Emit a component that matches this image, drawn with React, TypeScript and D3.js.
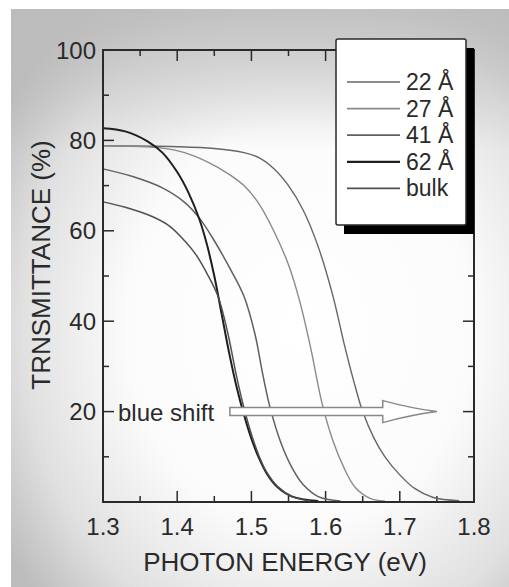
import React from 'react';
import * as d3 from 'd3';

// photon energy (eV) / transmittance (%)
const e22 = [1.3, 1.4, 1.45, 1.49, 1.51, 1.53, 1.55, 1.57, 1.59, 1.61, 1.625, 1.64, 1.65, 1.665, 1.68, 1.7, 1.72, 1.745, 1.78];
const t22 = [78.8, 78.6, 78.2, 77.3, 76.2, 73.8, 70.0, 64.5, 56.5, 45.5, 35.0, 25.5, 20.0, 14.2, 10.0, 6.0, 3.0, 1.0, 0.3];
const e27 = [1.3, 1.38, 1.41, 1.44, 1.47, 1.49, 1.51, 1.53, 1.55, 1.565, 1.58, 1.595, 1.61, 1.625, 1.64, 1.66, 1.68];
const t27 = [78.8, 78.3, 77.3, 75.3, 72.5, 70.0, 66.0, 60.0, 52.5, 44.5, 34.0, 22.0, 13.5, 7.5, 3.2, 0.8, 0.2];
const e41 = [1.3, 1.34, 1.38, 1.41, 1.43, 1.45, 1.47, 1.49, 1.505, 1.515, 1.525, 1.54, 1.555, 1.57, 1.59, 1.62];
const t41 = [73.7, 72.0, 69.5, 66.3, 62.8, 57.8, 52.0, 45.5, 37.0, 28.5, 21.0, 13.0, 7.5, 3.8, 1.2, 0.2];
const e62 = [1.3, 1.33, 1.36, 1.38, 1.4, 1.415, 1.43, 1.44, 1.45, 1.46, 1.47, 1.48, 1.49, 1.5, 1.51, 1.52, 1.535, 1.555, 1.59];
const t62 = [82.7, 82.0, 79.8, 77.3, 73.0, 68.5, 62.5, 57.0, 50.0, 41.5, 33.0, 25.5, 19.3, 14.0, 9.8, 6.5, 3.3, 1.2, 0.2];
const eBulk = [1.3, 1.33, 1.367, 1.39, 1.41, 1.425, 1.44, 1.455, 1.468, 1.48, 1.49, 1.5, 1.51, 1.52, 1.535, 1.555, 1.58];
const tBulk = [66.4, 65.2, 63.1, 61.0, 57.8, 54.8, 50.6, 45.5, 37.5, 27.8, 20.8, 15.0, 10.3, 6.8, 3.5, 1.2, 0.2];

const seriesNames = ['22 Å', '27 Å', '41 Å', '62 Å', 'bulk'];
const seriesE = [e22, e27, e41, e62, eBulk];
const seriesT = [t22, t27, t41, t62, tBulk];
const seriesColor = ['#666', '#8a8a8a', '#606060', '#1e1e1e', '#505050'];
const seriesWidth = [1.4, 1.4, 1.5, 2, 1.5];

const xTicks = [1.3, 1.4, 1.5, 1.6, 1.7, 1.8];
const xMinor = [1.35, 1.45, 1.55, 1.65, 1.75];
const yTicks = [20, 40, 60, 80, 100];
const yMinor = [10, 30, 50, 70, 90];

// blue shift arrow: from / head start / tip (eV) at 20 %
const arrowE = [1.471, 1.677, 1.75];
const arrowT = 20;

const W = 509;
const H = 587;
const m = { left: 103, right: 474, top: 50, bottom: 502 };
const font = '"Liberation Sans", Arial, sans-serif';
const ink = '#2a2a2a';

export default function App() {
  const x = d3.scaleLinear().domain([1.3, 1.8]).range([m.left, m.right]);
  const y = d3.scaleLinear().domain([0, 100]).range([m.bottom, m.top]);
  const line = d3
    .line<[number, number]>()
    .x((d) => x(d[0]))
    .y((d) => y(d[1]))
    .curve(d3.curveCatmullRom.alpha(0.5));

  const ay = y(arrowT);
  const [a0, a1, a2] = arrowE.map((e) => x(e));
  const arrowPath = `M${a0},${ay - 4} L${a1},${ay - 4} L${a1},${ay - 11} Q${a1 + 30},${ay - 3} ${a2},${ay} Q${a1 + 30},${ay + 3} ${a1},${ay + 11} L${a1},${ay + 4} L${a0},${ay + 4} Z`;

  const legX = 336, legY = 39, legW = 130, legH = 186;

  return (
    <svg width={W} height={H} style={{ position: 'absolute', left: 0, top: 0, display: 'block' }}>
      <defs>
        <radialGradient id="bg" cx="0.58" cy="0.55" r="0.7">
          <stop offset="0" stopColor="#ffffff" />
          <stop offset="0.5" stopColor="#fbfbfb" />
          <stop offset="0.8" stopColor="#e0e0e0" />
          <stop offset="1" stopColor="#bdbdbd" />
        </radialGradient>
        <linearGradient id="topShade" x1="0" y1="0" x2="0" y2="1">
          <stop offset="0" stopColor="#bcbcbc" stopOpacity={0.85} />
          <stop offset="1" stopColor="#bcbcbc" stopOpacity={0} />
        </linearGradient>
      </defs>
      <rect x={0} y={0} width={W} height={H} fill="#fff" />
      <rect x={11} y={9} width={W - 11} height={H - 9} fill="url(#bg)" />
      <rect x={11} y={9} width={W - 11} height={140} fill="url(#topShade)" />

      {/* ticks, inward on all four sides */}
      <g stroke={ink} strokeWidth={1.5}>
        {xTicks.map((t) => (
          <g key={'xt' + t}>
            <line x1={x(t)} x2={x(t)} y1={m.bottom} y2={m.bottom - 11} />
            <line x1={x(t)} x2={x(t)} y1={m.top} y2={m.top + 11} />
          </g>
        ))}
        {xMinor.map((t) => (
          <g key={'xm' + t}>
            <line x1={x(t)} x2={x(t)} y1={m.bottom} y2={m.bottom - 6} />
            <line x1={x(t)} x2={x(t)} y1={m.top} y2={m.top + 6} />
          </g>
        ))}
        {yTicks.map((t) => (
          <g key={'yt' + t}>
            <line x1={m.left} x2={m.left + 11} y1={y(t)} y2={y(t)} />
            <line x1={m.right} x2={m.right - 11} y1={y(t)} y2={y(t)} />
          </g>
        ))}
        {yMinor.map((t) => (
          <g key={'ym' + t}>
            <line x1={m.left} x2={m.left + 6} y1={y(t)} y2={y(t)} />
            <line x1={m.right} x2={m.right - 6} y1={y(t)} y2={y(t)} />
          </g>
        ))}
      </g>

      {/* curves */}
      {seriesNames.map((name, i) => (
        <path
          key={name}
          d={line(seriesE[i].map((e, j) => [e, seriesT[i][j]] as [number, number])) || ''}
          fill="none"
          stroke={seriesColor[i]}
          strokeWidth={seriesWidth[i]}
        />
      ))}

      {/* frame */}
      <rect x={m.left} y={m.top} width={m.right - m.left} height={m.bottom - m.top} fill="none" stroke={ink} strokeWidth={2} />

      {/* tick labels */}
      <g fill={ink} fontFamily={font} fontSize={24}>
        {xTicks.map((t) => (
          <text key={'xl' + t} x={x(t)} y={535} textAnchor="middle">
            {t.toFixed(1)}
          </text>
        ))}
        {yTicks.map((t) => (
          <text key={'yl' + t} x={96} y={y(t) + 8.5} textAnchor="end">
            {t}
          </text>
        ))}
      </g>

      {/* axis titles */}
      <text x={285} y={571} textAnchor="middle" fontFamily={font} fontSize={26} fill={ink}>
        PHOTON ENERGY (eV)
      </text>
      <text transform="translate(50,265) rotate(-90)" textAnchor="middle" fontFamily={font} fontSize={26} fill={ink}>
        TRNSMITTANCE (%)
      </text>

      {/* blue shift */}
      <text x={118} y={421} fontFamily={font} fontSize={24} fill={ink}>
        blue shift
      </text>
      <path d={arrowPath} fill="#fff" stroke="#888" strokeWidth={1.5} />

      {/* legend */}
      <rect x={legX + 8} y={legY + 9} width={legW} height={legH} fill="#000" />
      <rect x={legX} y={legY} width={legW} height={legH} rx={2} fill="#fff" stroke={ink} strokeWidth={1.5} />
      {seriesNames.map((name, i) => {
        const ly = 82 + i * 26.6;
        return (
          <g key={'lg' + name}>
            <line x1={347} x2={400} y1={ly} y2={ly} stroke={seriesColor[i]} strokeWidth={seriesWidth[i] + 0.3} />
            <text x={406} y={ly + 8} fontFamily={font} fontSize={23} fill={ink}>
              {name}
            </text>
          </g>
        );
      })}
    </svg>
  );
}
